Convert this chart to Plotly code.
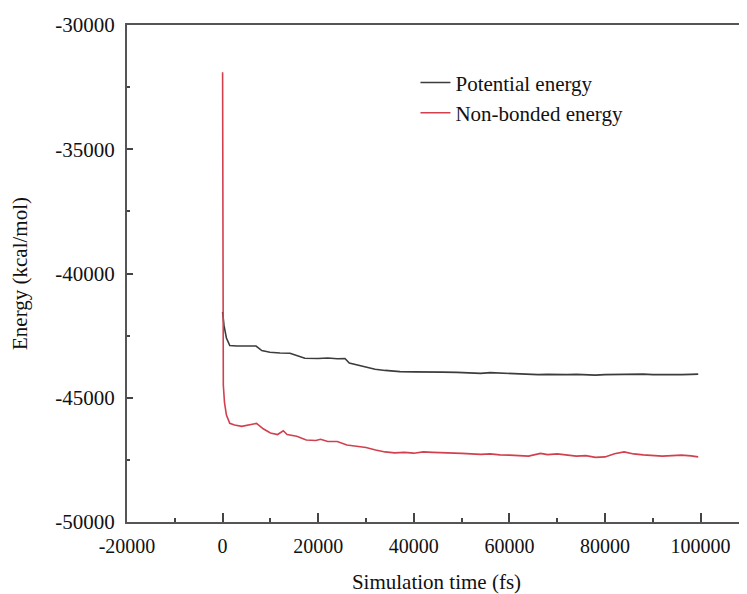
import plotly.graph_objects as go

# Simulation time (fs) and energies (kcal/mol)
t_pot = [0, 300, 800, 1500, 3000, 5000, 7000, 8200, 9900, 12000,
         14100, 15500, 17200, 20000, 22000, 24000, 25600, 26500, 28800, 30500,
         31900, 34000, 37100, 40000, 43000, 46000, 49000, 52000, 54000, 56000,
         58000, 60000, 62000, 64000, 66000, 68000, 70000, 72000, 74000, 76000,
         78000, 80000, 82000, 84000, 86000, 88000, 90000, 92000, 94000, 96000,
         98000, 99500]
e_pot = [-41550, -42100, -42600, -42900, -42920, -42910, -42920, -43100, -43170, -43200,
         -43210, -43300, -43410, -43420, -43400, -43430, -43420, -43600, -43700, -43800,
         -43850, -43900, -43950, -43960, -43950, -43970, -43980, -43990, -44020, -43990,
         -44010, -44040, -44060, -44050, -44070, -44060, -44080, -44070, -44060, -44080,
         -44090, -44070, -44060, -44080, -44070, -44050, -44070, -44080, -44060, -44070,
         -44060, -44050]

t_nb = [0, 150, 400, 800, 1500, 2500, 4000, 5500, 6500, 7100,
        8500, 10000, 11500, 12700, 13500, 15500, 17500, 19500, 20500, 22000,
        24000, 26000, 28000, 30000, 32000, 34000, 36000, 38000, 40000, 42000,
        44000, 46000, 48000, 50000, 52000, 54000, 56000, 58000, 60000, 62000,
        64000, 66500, 68000, 70000, 72000, 74000, 76000, 78000, 80000, 82000,
        84000, 86000, 88000, 90000, 92000, 94000, 96000, 98000, 99500]
e_nb = [-31900, -44500, -45200, -45700, -46030, -46100, -46150, -46100, -46060, -46030,
        -46250, -46420, -46480, -46330, -46480, -46550, -46700, -46720, -46670, -46760,
        -46760, -46900, -46950, -47000, -47100, -47180, -47220, -47200, -47230, -47180,
        -47200, -47220, -47250, -47240, -47260, -47280, -47260, -47300, -47310, -47330,
        -47350, -47240, -47290, -47260, -47300, -47350, -47330, -47400, -47380, -47250,
        -47180, -47260, -47300, -47330, -47350, -47330, -47310, -47340, -47380]

x_ticks = [-20000, 0, 20000, 40000, 60000, 80000, 100000]
y_ticks = [-50000, -45000, -40000, -35000, -30000]

FONT = "Liberation Serif"
fig = go.Figure()
fig.add_trace(go.Scatter(x=t_pot, y=e_pot, mode="lines", name="Potential energy",
                         line=dict(color="#3c3c3c", width=1.6)))
fig.add_trace(go.Scatter(x=t_nb, y=e_nb, mode="lines", name="Non-bonded energy",
                         line=dict(color="#d2404f", width=1.6)))

fig.update_layout(
    width=739, height=586,
    margin=dict(l=119, r=1, t=17, b=72),
    plot_bgcolor="white", paper_bgcolor="white",
    font=dict(family=FONT, size=21, color="#111"),
    showlegend=True,
    legend=dict(x=0.466, y=0.925, xanchor="left", yanchor="top",
                bgcolor="rgba(0,0,0,0)", font=dict(family=FONT, size=21)),
)
fig.update_xaxes(
    range=[-20000, 109500], tickvals=x_ticks, ticktext=[str(v) for v in x_ticks],
    tickfont=dict(family=FONT, size=20),
    ticks="inside", ticklen=9, tickwidth=2, tickcolor="#444",
    showline=True, linecolor="#555", linewidth=2, mirror=True,
    showgrid=False, zeroline=False, automargin=False,
    minor=dict(ticks="inside", ticklen=4, tickwidth=1.5, tickcolor="#444", dtick=10000, tick0=0, showgrid=False),
    title=dict(text="Simulation time (fs)", font=dict(family=FONT, size=21), standoff=18),
    ticklabelstandoff=5,
)
fig.update_yaxes(
    range=[-50000, -30000], tickvals=y_ticks, ticktext=[str(v) for v in y_ticks],
    tickfont=dict(family=FONT, size=21),
    ticks="inside", ticklen=6, tickwidth=2, tickcolor="#444",
    showline=True, linecolor="#555", linewidth=2, mirror=True,
    showgrid=False, zeroline=False, automargin=False,
    minor=dict(ticks="inside", ticklen=3, tickwidth=1.5, tickcolor="#444", dtick=2500, tick0=0, showgrid=False),
    title=dict(text="Energy (kcal/mol)", font=dict(family=FONT, size=21), standoff=30),
    ticklabelstandoff=6,
)

fig.write_html("out.html")
